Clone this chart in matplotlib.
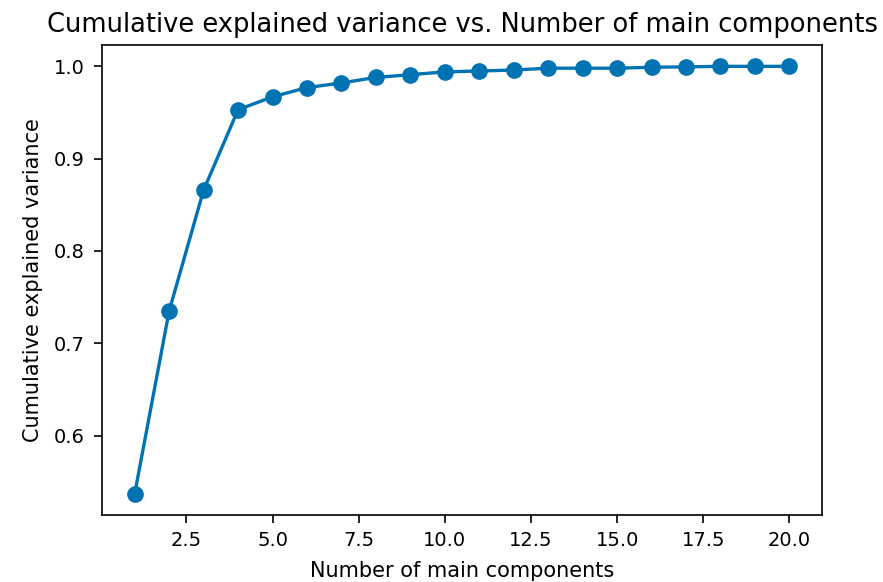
import numpy as np
import matplotlib
matplotlib.use("Agg")
import matplotlib.pyplot as plt

# number of principal components kept
n_components = list(range(1, 21))
# cumulative explained variance
cum_var = [0.537, 0.735, 0.866, 0.953, 0.967, 0.977, 0.982, 0.988, 0.991, 0.994,
           0.995, 0.996, 0.998, 0.998, 0.998, 0.999, 0.9995, 1.0, 1.0, 1.0]

plt.rcParams['font.family'] = ['DejaVu Sans']
plt.rcParams['xtick.labelsize'] = 14
plt.rcParams['ytick.labelsize'] = 14
plt.rcParams['xtick.major.size'] = 5.5
plt.rcParams['ytick.major.size'] = 5.5
plt.rcParams['xtick.major.width'] = 1.2
plt.rcParams['ytick.major.width'] = 1.2
plt.rcParams['xtick.major.pad'] = 6
plt.rcParams['ytick.major.pad'] = 7
plt.rcParams['axes.linewidth'] = 1.2

fig = plt.figure(figsize=(8.83, 5.82), dpi=100)
ax = fig.add_axes([0.1155, 0.1151, 0.8155, 0.8076])

ax.plot(n_components, cum_var, marker='o', color='#0173b2',
        linewidth=2.4, markersize=11)

ax.set_xlabel('Number of main components', fontsize=15, labelpad=8)
ax.set_ylabel('Cumulative explained variance', fontsize=15, labelpad=8)
ax.set_title('Cumulative explained variance vs. Number of main components',
             fontsize=18.5, pad=9)

fig.savefig('out.png', dpi=100)
